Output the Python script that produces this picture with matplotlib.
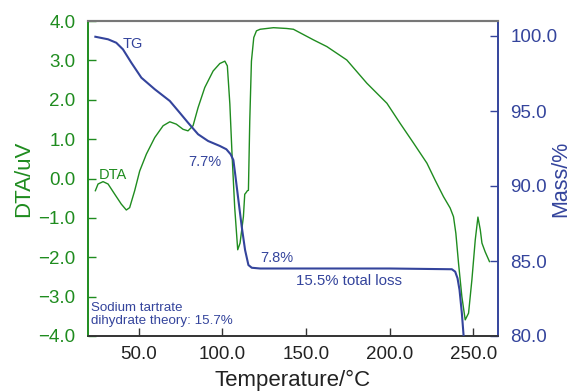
import matplotlib
matplotlib.use("Agg")
import matplotlib.pyplot as plt

plt.rcParams['font.family'] = ['Liberation Sans', 'DejaVu Sans']

GREEN = "#1f8c1f"
BLUE = "#34449c"

# TG curve (mass %)
tg_temp = [24.1, 31.7, 36.6, 40.6, 45.6, 51.6, 59.6, 68.6, 74.5, 79.5, 85.5, 91.5,
           98.5, 102.4, 105.0, 106.6, 107.6, 109.6, 111.6, 113.6, 115.6, 117.6,
           122.6, 150.0, 200.0, 237.2, 239.2, 240.6, 241.8, 243.2, 244.2]
tg_mass = [99.95, 99.78, 99.55, 99.11, 98.22, 97.22, 96.45, 95.67, 94.89, 94.22, 93.45, 93.0,
           92.67, 92.45, 92.11, 91.73, 90.87, 89.07, 87.29, 85.73, 84.73, 84.55,
           84.5, 84.5, 84.5, 84.45, 84.29, 83.85, 83.07, 81.51, 80.07]

# DTA curve (uV)
dta_temp = [24.1, 25.7, 28.7, 31.7, 35.7, 39.6, 42.6, 44.6, 47.6, 50.6, 54.6, 59.6,
            64.6, 68.6, 72.5, 76.5, 79.5, 82.5, 85.5, 89.5, 94.5, 98.5, 101.5, 103.0,
            104.5, 105.8, 107.4, 109.2, 110.6, 112.6, 113.4, 114.0, 115.0, 115.6,
            116.4, 117.4, 118.8, 120.4, 122.6, 130.6, 138.5, 142.5, 154.5, 162.5,
            174.4, 186.4, 198.4, 206.3, 214.3, 222.3, 227.2, 232.2, 236.2, 238.2,
            239.6, 241.2, 243.2, 245.2, 247.2, 249.2, 251.2, 252.8, 254.2, 255.2,
            257.1, 259.7]
dta_val = [-0.31, -0.14, -0.08, -0.14, -0.40, -0.65, -0.80, -0.74, -0.31, 0.19, 0.62, 1.04,
           1.34, 1.44, 1.38, 1.25, 1.21, 1.34, 1.80, 2.31, 2.73, 2.92, 2.98, 2.86,
           1.89, 0.62, -0.74, -1.81, -1.64, -0.97, -0.40, -0.37, -0.31, -0.30,
           1.46, 2.98, 3.58, 3.75, 3.79, 3.83, 3.81, 3.79, 3.52, 3.35,
           3.01, 2.42, 1.91, 1.40, 0.90, 0.39, -0.04, -0.46, -0.75, -0.97,
           -1.39, -2.15, -3.00, -3.59, -3.42, -2.57, -1.56, -0.98, -1.30, -1.64,
           -1.86, -2.11]

x_ticks = [50, 100, 150, 200, 250]
dta_ticks = [-4, -3, -2, -1, 0, 1, 2, 3, 4]
mass_ticks = [80, 85, 90, 95, 100]

fig = plt.figure(figsize=(5.74, 3.91), dpi=100)
ax = fig.add_axes([88/574, 1-336/391, (498-88)/574, (336-21)/391])
ax2 = ax.twinx()

ax.plot(dta_temp, dta_val, color=GREEN, lw=1.0, zorder=2)
ax2.plot(tg_temp, tg_mass, color=BLUE, lw=1.5, zorder=3)

ax.set_xlim(19.7, 264.8)
ax.set_ylim(-4, 4)
ax2.set_ylim(80, 101)

ax.set_xticks(x_ticks)
ax.set_xticklabels([f"{v:.1f}" for v in x_ticks], fontsize=13.5, color="#222222")
ax.set_yticks(dta_ticks)
ax.set_yticklabels([f"{v:.1f}".replace("-", "\u2212") for v in dta_ticks], fontsize=13.5, color=GREEN)
ax2.set_yticks(mass_ticks)
ax2.set_yticklabels([f"{v:.1f}" for v in mass_ticks], fontsize=13.5, color=BLUE)

ax.tick_params(axis='x', direction='in', length=6, width=1, color="#333333", pad=7)
ax.tick_params(axis='y', direction='in', length=6, width=1, color=GREEN, pad=9)
ax2.tick_params(axis='y', direction='in', length=6, width=1, color=BLUE, pad=9)

for a in (ax, ax2):
    a.spines['top'].set_color("#777777")
    a.spines['top'].set_linewidth(1.5)
    a.spines['bottom'].set_color("#333333")
    a.spines['bottom'].set_linewidth(1.2)
    a.spines['left'].set_color(GREEN)
    a.spines['left'].set_linewidth(1.2)
    a.spines['right'].set_color(BLUE)
    a.spines['right'].set_linewidth(1.2)

ax.set_xlabel("Temperature/\u00b0C", fontsize=16, color="#222222", labelpad=5)
ax.set_ylabel("DTA/uV", fontsize=16, color=GREEN, labelpad=3)
ax2.set_ylabel("Mass/%", fontsize=15.5, color=BLUE, labelpad=-5)

ax.text(40.6, 3.42, "TG", color=BLUE, fontsize=10.5, ha='left', va='center')
ax.text(26.3, 0.09, "DTA", color=GREEN, fontsize=10.5, ha='left', va='center')
ax.text(79.5, 0.41, "7.7%", color=BLUE, fontsize=10.5, ha='left', va='center')
ax.text(122.6, -2.02, "7.8%", color=BLUE, fontsize=10.5, ha='left', va='center')
ax.text(144.1, -2.61, "15.5% total loss", color=BLUE, fontsize=10.8, ha='left', va='center')
ax.text(21.3, -3.45, "Sodium tartrate\ndihydrate theory: 15.7%", color=BLUE, fontsize=9.6,
        ha='left', va='center', linespacing=1.15)

fig.savefig("out.png", dpi=100)
